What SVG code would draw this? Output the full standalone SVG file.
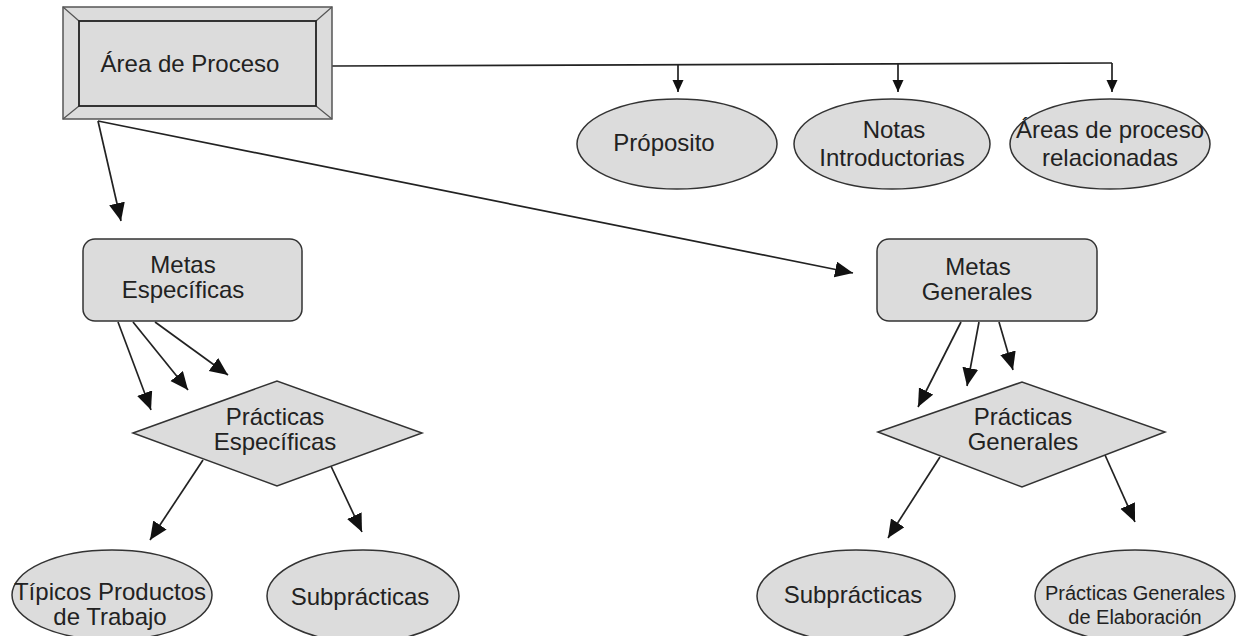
<svg xmlns="http://www.w3.org/2000/svg" width="1241" height="636" viewBox="0 0 1241 636">
<defs>
<marker id="ah" markerUnits="userSpaceOnUse" markerWidth="20" markerHeight="18" refX="18" refY="8" orient="auto">
<path d="M0,0 L18,8 L0,16 z" fill="#111"/>
</marker>
<marker id="ahs" markerUnits="userSpaceOnUse" markerWidth="13" markerHeight="12" refX="12" refY="5.5" orient="auto">
<path d="M0,0 L12,5.5 L0,11 z" fill="#111"/>
</marker>
<style>
.n{fill:#dcdcdc;stroke:#333;stroke-width:1.5}
.t{font-family:"Liberation Sans",Arial,sans-serif;font-size:24px;fill:#222;text-anchor:middle}
.ts{font-family:"Liberation Sans",Arial,sans-serif;font-size:20px;fill:#222;text-anchor:middle}
.c{fill:none;stroke:#222;stroke-width:1.7}
</style>
</defs>
<rect width="1241" height="636" fill="#fff"/>
<g id="connectors">
<polyline class="c" points="332,66 1112,63"/>
<line class="c" x1="678" y1="65" x2="678" y2="92" marker-end="url(#ahs)"/>
<line class="c" x1="898" y1="64" x2="898" y2="92" marker-end="url(#ahs)"/>
<line class="c" x1="1112" y1="63" x2="1112" y2="92" marker-end="url(#ahs)"/>
<line class="c" x1="98" y1="121" x2="121" y2="221" marker-end="url(#ah)"/>
<line class="c" x1="98" y1="121" x2="853" y2="273" marker-end="url(#ah)"/>
<line class="c" x1="118" y1="322" x2="151" y2="410" marker-end="url(#ah)"/>
<line class="c" x1="133" y1="322" x2="188" y2="390" marker-end="url(#ah)"/>
<line class="c" x1="155" y1="322" x2="228" y2="375" marker-end="url(#ah)"/>
<line class="c" x1="961" y1="322" x2="918" y2="407" marker-end="url(#ah)"/>
<line class="c" x1="979" y1="322" x2="967" y2="386" marker-end="url(#ah)"/>
<line class="c" x1="999" y1="322" x2="1013" y2="370" marker-end="url(#ah)"/>
<line class="c" x1="203" y1="460" x2="150" y2="540" marker-end="url(#ah)"/>
<line class="c" x1="330" y1="464" x2="362" y2="532" marker-end="url(#ah)"/>
<line class="c" x1="940" y1="457" x2="888" y2="538" marker-end="url(#ah)"/>
<line class="c" x1="1105" y1="455" x2="1135" y2="522" marker-end="url(#ah)"/>
</g>
<g id="area-proceso">
<rect x="63" y="7" width="269" height="112" fill="#dcdcdc" stroke="#555" stroke-width="1.5"/>
<path d="M63,7 L79,21 M332,7 L316,21 M63,119 L79,106 M332,119 L316,106" stroke="#555" stroke-width="1.2" fill="none"/>
<rect x="79" y="21" width="237" height="85" fill="#dcdcdc" stroke="#222" stroke-width="1.8"/>
<text class="t" x="190" y="72">Área de Proceso</text>
</g>
<g id="proposito">
<ellipse class="n" cx="677" cy="144" rx="100" ry="45"/>
<text class="t" x="664" y="151">Próposito</text>
</g>
<g id="notas">
<ellipse class="n" cx="892" cy="144" rx="98" ry="45"/>
<text class="t" x="894" y="138">Notas</text>
<text class="t" x="892" y="166">Introductorias</text>
</g>
<g id="areas-relacionadas">
<ellipse class="n" cx="1110" cy="144" rx="100" ry="45"/>
<text class="t" x="1110" y="138">Áreas de proceso</text>
<text class="t" x="1110" y="166">relacionadas</text>
</g>
<g id="metas-especificas">
<rect class="n" x="83" y="239" width="219" height="82" rx="12"/>
<text class="t" x="183" y="273">Metas</text>
<text class="t" x="183" y="298">Específicas</text>
</g>
<g id="metas-generales">
<rect class="n" x="877" y="239" width="220" height="82" rx="12"/>
<text class="t" x="978" y="275">Metas</text>
<text class="t" x="977" y="300">Generales</text>
</g>
<g id="practicas-especificas">
<polygon class="n" points="133,433 277,381 422,433 277,486"/>
<text class="t" x="275" y="425">Prácticas</text>
<text class="t" x="275" y="450">Específicas</text>
</g>
<g id="practicas-generales">
<polygon class="n" points="878,432 1022,382 1165,432 1022,487"/>
<text class="t" x="1023" y="425">Prácticas</text>
<text class="t" x="1023" y="450">Generales</text>
</g>
<g id="tipicos-productos">
<ellipse class="n" cx="112" cy="595" rx="100" ry="45"/>
<text class="t" x="110" y="600">Típicos Productos</text>
<text class="t" x="110" y="625">de Trabajo</text>
</g>
<g id="subpracticas-1">
<ellipse class="n" cx="363" cy="596" rx="96" ry="46"/>
<text class="t" x="360" y="605">Subprácticas</text>
</g>
<g id="subpracticas-2">
<ellipse class="n" cx="856" cy="596" rx="99" ry="46"/>
<text class="t" x="853" y="603">Subprácticas</text>
</g>
<g id="practicas-elaboracion">
<ellipse class="n" cx="1135" cy="596" rx="100" ry="46"/>
<text class="ts" x="1135" y="600">Prácticas Generales</text>
<text class="ts" x="1135" y="624">de Elaboración</text>
</g>
</svg>
